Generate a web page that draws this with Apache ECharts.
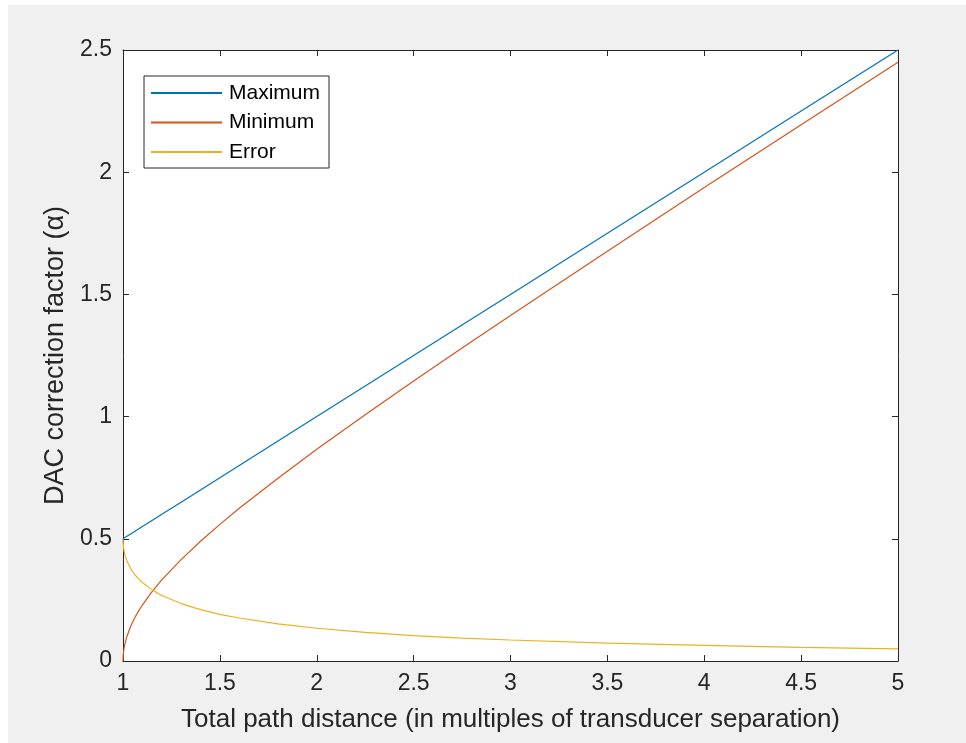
<!DOCTYPE html>
<html>
<head>
<meta charset="utf-8">
<script src="https://cdn.jsdelivr.net/npm/echarts@6/dist/echarts.min.js"></script>
<style>
html,body{margin:0;padding:0;background:#ffffff;width:966px;height:743px;overflow:hidden;}
#chart{position:absolute;left:8px;top:5px;width:958px;height:738px;background:#f0f0f0;}
</style>
</head>
<body>
<div id="chart"></div>
<script>
// Sampled x positions (multiples of transducer separation)
var xValues = [1, 1.001, 1.005, 1.01, 1.02, 1.04, 1.06, 1.08, 1.1, 1.15, 1.2, 1.3, 1.4, 1.5, 1.6, 1.8, 2, 2.25, 2.5, 2.75, 3, 3.5, 4, 4.5, 5];
var maximumValues = [0.5, 0.5005, 0.5025, 0.505, 0.51, 0.52, 0.53, 0.54, 0.55, 0.575, 0.6, 0.65, 0.7, 0.75, 0.8, 0.9, 1.0, 1.125, 1.25, 1.375, 1.5, 1.75, 2.0, 2.25, 2.5];
var minimumValues = [0, 0.022, 0.050, 0.071, 0.100, 0.143, 0.176, 0.204, 0.229, 0.284, 0.332, 0.415, 0.490, 0.559, 0.625, 0.748, 0.866, 1.008, 1.146, 1.281, 1.414, 1.677, 1.937, 2.194, 2.450];
var errorValues = [0.5, 0.478, 0.452, 0.434, 0.410, 0.377, 0.354, 0.336, 0.321, 0.291, 0.268, 0.235, 0.210, 0.191, 0.176, 0.152, 0.134, 0.117, 0.104, 0.094, 0.086, 0.073, 0.064, 0.056, 0.050];
var seriesNames = ['Maximum', 'Minimum', 'Error'];
var xTicks = [1, 1.5, 2, 2.5, 3, 3.5, 4, 4.5, 5];
var yTicks = [0, 0.5, 1, 1.5, 2, 2.5];

function pairs(ys) { return xValues.map(function (x, i) { return [x, ys[i]]; }); }

var axisColor = '#262626';
var fontFam = '"Liberation Sans", Arial, Helvetica, sans-serif';
var chart = echarts.init(document.getElementById('chart'), null, {renderer: 'canvas'});

function xAxisCfg(pos, showLabels) {
  return {
    type: 'value', position: pos, min: xTicks[0], max: xTicks[xTicks.length - 1], interval: 0.5,
    axisLine: {show: true, onZero: false, lineStyle: {color: axisColor, width: 1}},
    axisTick: {show: true, inside: true, length: 6, lineStyle: {color: axisColor}},
    axisLabel: {show: showLabels, color: axisColor, fontSize: 23, fontFamily: fontFam, margin: 11},
    splitLine: {show: false},
    name: showLabels ? 'Total path distance (in multiples of transducer separation)' : '',
    nameLocation: 'middle', nameGap: 46,
    nameTextStyle: {color: axisColor, fontSize: 26, fontFamily: fontFam}
  };
}
function yAxisCfg(pos, showLabels) {
  return {
    type: 'value', position: pos, min: yTicks[0], max: yTicks[yTicks.length - 1], interval: 0.5,
    axisLine: {show: true, onZero: false, lineStyle: {color: axisColor, width: 1}},
    axisTick: {show: true, inside: true, length: 6, lineStyle: {color: axisColor}},
    axisLabel: {show: showLabels, color: axisColor, fontSize: 23, fontFamily: fontFam, margin: 11},
    splitLine: {show: false},
    name: showLabels ? 'DAC correction factor (\u03b1)' : '',
    nameLocation: 'middle', nameGap: 54,
    nameTextStyle: {color: axisColor, fontSize: 27, fontFamily: fontFam}
  };
}

var colors = ['#0072BD', '#D95319', '#EDB120'];
var dataSets = [maximumValues, minimumValues, errorValues];

chart.setOption({
  animation: false,
  color: colors,
  grid: {left: 115, top: 45, right: 68, bottom: 82, show: true, backgroundColor: '#ffffff', borderWidth: 0},
  xAxis: [xAxisCfg('bottom', true), xAxisCfg('top', false)],
  yAxis: [yAxisCfg('left', true), yAxisCfg('right', false)],
  legend: {
    left: 136, top: 71, orient: 'vertical',
    backgroundColor: '#ffffff', borderColor: axisColor, borderWidth: 1,
    padding: [6, 9, 5, 7],
    itemWidth: 71, itemHeight: 2, itemGap: 7.5,
    icon: 'rect',
    textStyle: {color: '#000000', fontSize: 21, fontFamily: fontFam, lineHeight: 22, padding: [0, 0, 0, 2]},
    data: seriesNames
  },
  series: seriesNames.map(function (n, i) {
    return {
      name: n, type: 'line', data: pairs(dataSets[i]), xAxisIndex: 0, yAxisIndex: 0,
      showSymbol: false, symbol: 'none', smooth: false,
      lineStyle: {width: 1.2, color: colors[i]}
    };
  })
});
</script>
</body>
</html>
